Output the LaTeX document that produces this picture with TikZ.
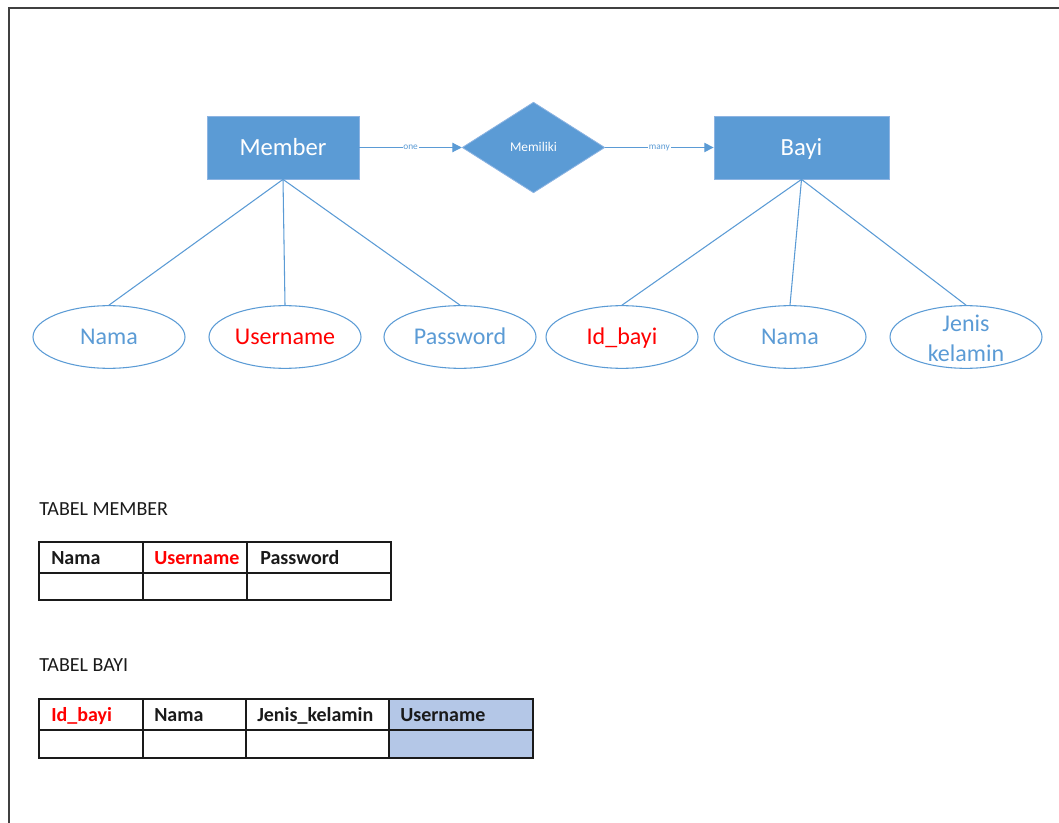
\documentclass[tikz,border=0pt]{standalone}
\usepackage{fontspec}
\setmainfont{Carlito}
\usetikzlibrary{shapes.geometric,arrows.meta}
\definecolor{erblue}{HTML}{5B9BD5}
\definecolor{erborder}{HTML}{8DB4E2}
\definecolor{erred}{HTML}{FF0000}
\definecolor{fkfill}{HTML}{B4C7E7}
\definecolor{frame}{HTML}{404040}
\definecolor{ink}{HTML}{1A1A1A}
\begin{document}
\begin{tikzpicture}[x=0.75pt,y=-0.75pt,
  entity/.style={rectangle, fill=erblue, draw=erborder, line width=0.6pt,
    minimum height=47.25pt, inner sep=0pt, text=white,
    text height=11.9pt, text depth=0pt,
    font=\fontsize{18.5}{22}\selectfont},
  relation/.style={diamond, fill=erblue, draw=erborder, line width=0.6pt,
    minimum width=107pt, minimum height=68pt, inner sep=0pt, aspect=1.57,
    text height=6.4pt, text depth=0pt,
    text=white, font=\fontsize{10}{12}\selectfont},
  attr/.style={ellipse, draw=erblue, line width=0.8pt, minimum width=114pt,
    minimum height=47pt, inner sep=0pt, text=erblue,
    text height=11.6pt, text depth=0pt,
    font=\fontsize{18}{22}\selectfont},
  keyattr/.style={attr, text=erred},
  conn/.style={draw=erblue, line width=0.8pt},
  arrowline/.style={conn, -{Triangle[length=7pt,width=7pt]}},
  lab/.style={fill=white, inner sep=0.6pt, text=erblue,
    font=\fontsize{7}{8}\selectfont},
  tbl/.style={draw=ink, line width=1.1pt},
  tabtitle/.style={anchor=west, inner sep=0pt, text=ink,
    text height=9.7pt, text depth=0pt,
    font=\fontsize{15}{18}\selectfont},
  head/.style={anchor=west, inner sep=0pt, text=ink,
    text height=9.7pt, text depth=0pt,
    font=\bfseries\fontsize{15}{18}\selectfont},
  keyhead/.style={head, text=erred}
]
\useasboundingbox (0,0) rectangle (1059,823);

% page frame
\draw[frame, line width=1.4pt] (9,823) -- (9,8) -- (1059,8);

% ER diagram
\node[entity, minimum width=114pt] (member) at (283,147.5) {Member};
\node[relation] (rel) at (533.5,147.5) {Memiliki};
\node[entity, minimum width=131.25pt] (bayi) at (801.5,147.5) {Bayi};

\draw[arrowline] (member.east) -- node[lab] {one} (rel.west);
\draw[arrowline] (rel.east) -- node[lab] {many} (bayi.west);

\node[attr] (mnama) at (109,337) {Nama};
\node[keyattr] (muser) at (285,337) {Username};
\node[attr] (mpass) at (460,337) {Password};
\node[keyattr] (bid) at (622,337) {Id\_bayi};
\node[attr] (bnama) at (790,337) {Nama};
\node[attr] (bjk) at (966,337) {};
\node[align=center, inner sep=0pt, text=erblue,
  font=\fontsize{18}{22.5}\selectfont] (bjkt) at (966,338) {Jenis\\kelamin};

\draw[conn] (member.south) -- (mnama.north);
\draw[conn] (member.south) -- (muser.north);
\draw[conn] (member.south) -- (mpass.north);
\draw[conn] (bayi.south) -- (bid.north);
\draw[conn] (bayi.south) -- (bnama.north);
\draw[conn] (bayi.south) -- (bjk.north);

% TABEL MEMBER
\node[tabtitle] (t1) at (39,509) {TABEL MEMBER};
\draw[tbl] (39,542) rectangle (391,600);
\draw[tbl] (39,573) -- (391,573);
\draw[tbl] (143,542) -- (143,600);
\draw[tbl] (247,542) -- (247,600);
\node[head] (h11) at (51,558) {Nama};
\node[keyhead] (h12) at (154,558) {Username};
\node[head] (h13) at (260,558) {Password};

% TABEL BAYI
\node[tabtitle] (t2) at (39,665) {TABEL BAYI};
\fill[fkfill] (389,699) rectangle (533,758);
\draw[tbl] (39,699) rectangle (533,758);
\draw[tbl] (39,730) -- (533,730);
\draw[tbl] (143,699) -- (143,758);
\draw[tbl] (246,699) -- (246,758);
\draw[tbl] (389,699) -- (389,758);
\node[keyhead] (h21) at (51,715) {Id\_bayi};
\node[head] (h22) at (154,715) {Nama};
\node[head] (h23) at (257,715) {Jenis\_kelamin};
\node[head] (h24) at (400,715) {Username};
\end{tikzpicture}
\end{document}
